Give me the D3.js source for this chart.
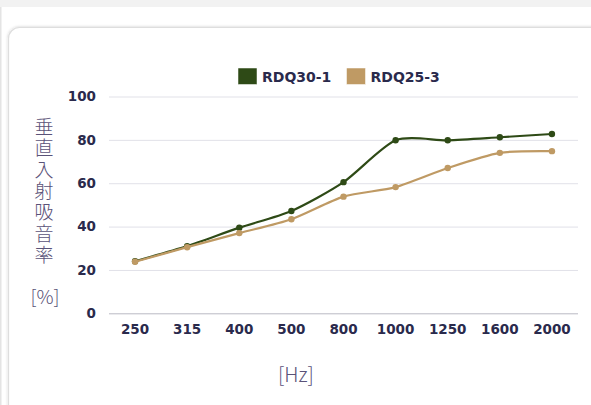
<!DOCTYPE html>
<html lang="ja">
<head>
<meta charset="UTF-8">
<script src="https://d3js.org/d3.v7.min.js"></script>
<style>
  body { margin: 0; background: #f2f2f2; }
  svg { display: block; }
</style>
<title>垂直入射吸音率</title>
</head>
<body>
<div class="canvas"></div>
<script>
  // data
  const freqs = ['250', '315', '400', '500', '800', '1000', '1250', '1600', '2000']
  const rdq30 = [24, 31, 39.5, 47.2, 60.5, 79.8, 79.8, 81.2, 82.7]
  const rdq25 = [23.8, 30.5, 37, 43.4, 53.8, 58.2, 67, 74, 74.8]
  const yTicks = [0, 20, 40, 60, 80, 100]
  const seriesNames = ['RDQ30-1', 'RDQ25-3']
  const seriesColors = ['#2e4a16', '#bf9a64']

  const W = 591, H = 405
  const svg = d3.select('.canvas').append('svg')
    .attr('width', W).attr('height', H)

  const defs = svg.append('defs')
  const f = defs.append('filter').attr('id', 'sh')
    .attr('x', '-5%').attr('y', '-5%').attr('width', '110%').attr('height', '110%')
  f.append('feDropShadow').attr('dx', 0).attr('dy', 0).attr('stdDeviation', 1.5)
    .attr('flood-color', '#000').attr('flood-opacity', 0.2)

  // page + card
  svg.append('rect').attr('x', 0).attr('y', 7).attr('width', W).attr('height', H)
    .attr('fill', '#fff')
  svg.append('rect').attr('x', 0).attr('y', 7).attr('width', 1.5).attr('height', H)
    .attr('fill', '#e4e4e4')
  svg.append('rect')
    .attr('x', 8.5).attr('y', 27.5).attr('width', 620).attr('height', 420)
    .attr('rx', 11)
    .attr('fill', '#fff').attr('stroke', '#dedede').attr('stroke-width', 1.2)
    .attr('filter', 'url(#sh)')

  const pl = 109, pr = 578, pt = 96.5, pb = 313.3

  const x = d3.scaleBand().domain(freqs).range([pl, pr])
  const y = d3.scaleLinear().domain([0, 100]).range([pb, pt])
  const cx = d => x(d) + x.bandwidth() / 2

  const tickFont = 'DejaVu Sans, sans-serif'
  const tickColor = '#2a2a4c'

  // grid
  const yAxis = d3.axisLeft(y).tickValues(yTicks).tickSize(-(pr - pl)).tickPadding(13)
  const gy = svg.append('g').attr('transform', `translate(${pl},0)`).call(yAxis)
  gy.select('.domain').remove()
  gy.selectAll('.tick line')
    .attr('stroke', d => d === 0 ? '#b9b9c4' : '#e1e1e8')
    .attr('stroke-width', 1)
  gy.selectAll('.tick text')
    .attr('fill', tickColor).style('font-family', tickFont)
    .style('font-size', '13.5px').style('font-weight', 'bold')

  const xAxis = d3.axisBottom(x).tickSize(0).tickPadding(11)
  const gx = svg.append('g').attr('transform', `translate(0,${pb})`).call(xAxis)
  gx.select('.domain').remove()
  gx.selectAll('.tick text')
    .attr('fill', tickColor).style('font-family', tickFont)
    .style('font-size', '13.5px').style('font-weight', 'bold')

  // lines
  const line = d3.line()
    .x((d, i) => cx(freqs[i]))
    .y(d => y(d))
    .curve(d3.curveCardinal.tension(0.25))

  ;[rdq30, rdq25].forEach((vals, k) => {
    const g = svg.append('g')
    g.append('path').attr('d', line(vals))
      .attr('fill', 'none').attr('stroke', seriesColors[k]).attr('stroke-width', 2.2)
    g.selectAll('circle').data(vals).enter().append('circle')
      .attr('cx', (d, i) => cx(freqs[i])).attr('cy', d => y(d))
      .attr('r', 3.2).attr('fill', seriesColors[k])
  })

  // legend
  const legX = [238, 346.5]
  seriesNames.forEach((name, k) => {
    svg.append('rect').attr('x', legX[k]).attr('y', 68).attr('width', 19).attr('height', 16.5)
      .attr('fill', seriesColors[k]).attr('stroke', '#fff').attr('stroke-width', 0.5)
    svg.append('text').attr('x', legX[k] + 24).attr('y', 81.5)
      .attr('fill', tickColor).style('font-family', tickFont)
      .style('font-size', '14px').style('font-weight', 'bold')
      .text(name)
  })

  // axis titles
  const titleColor = '#5a5278'
  svg.append('text')
    .attr('x', 44).attr('y', 117)
    .attr('fill', titleColor)
    .style('font-family', '"Noto Sans CJK JP", sans-serif')
    .style('font-size', '19px').style('font-weight', 300)
    .style('writing-mode', 'vertical-rl')
    .style('letter-spacing', '2.4px')
    .text('垂直入射吸音率')
  svg.append('text').attr('x', 45).attr('y', 304).attr('text-anchor', 'middle')
    .attr('fill', titleColor)
    .style('font-family', '"Noto Sans CJK JP", sans-serif')
    .style('font-size', '19px').style('font-weight', 300)
    .text('[%]')
  svg.append('text').attr('x', 296).attr('y', 382).attr('text-anchor', 'middle')
    .attr('fill', titleColor)
    .style('font-family', '"Noto Sans CJK JP", sans-serif')
    .style('font-size', '20px').style('font-weight', 300)
    .text('[Hz]')
</script>
</body>
</html>
